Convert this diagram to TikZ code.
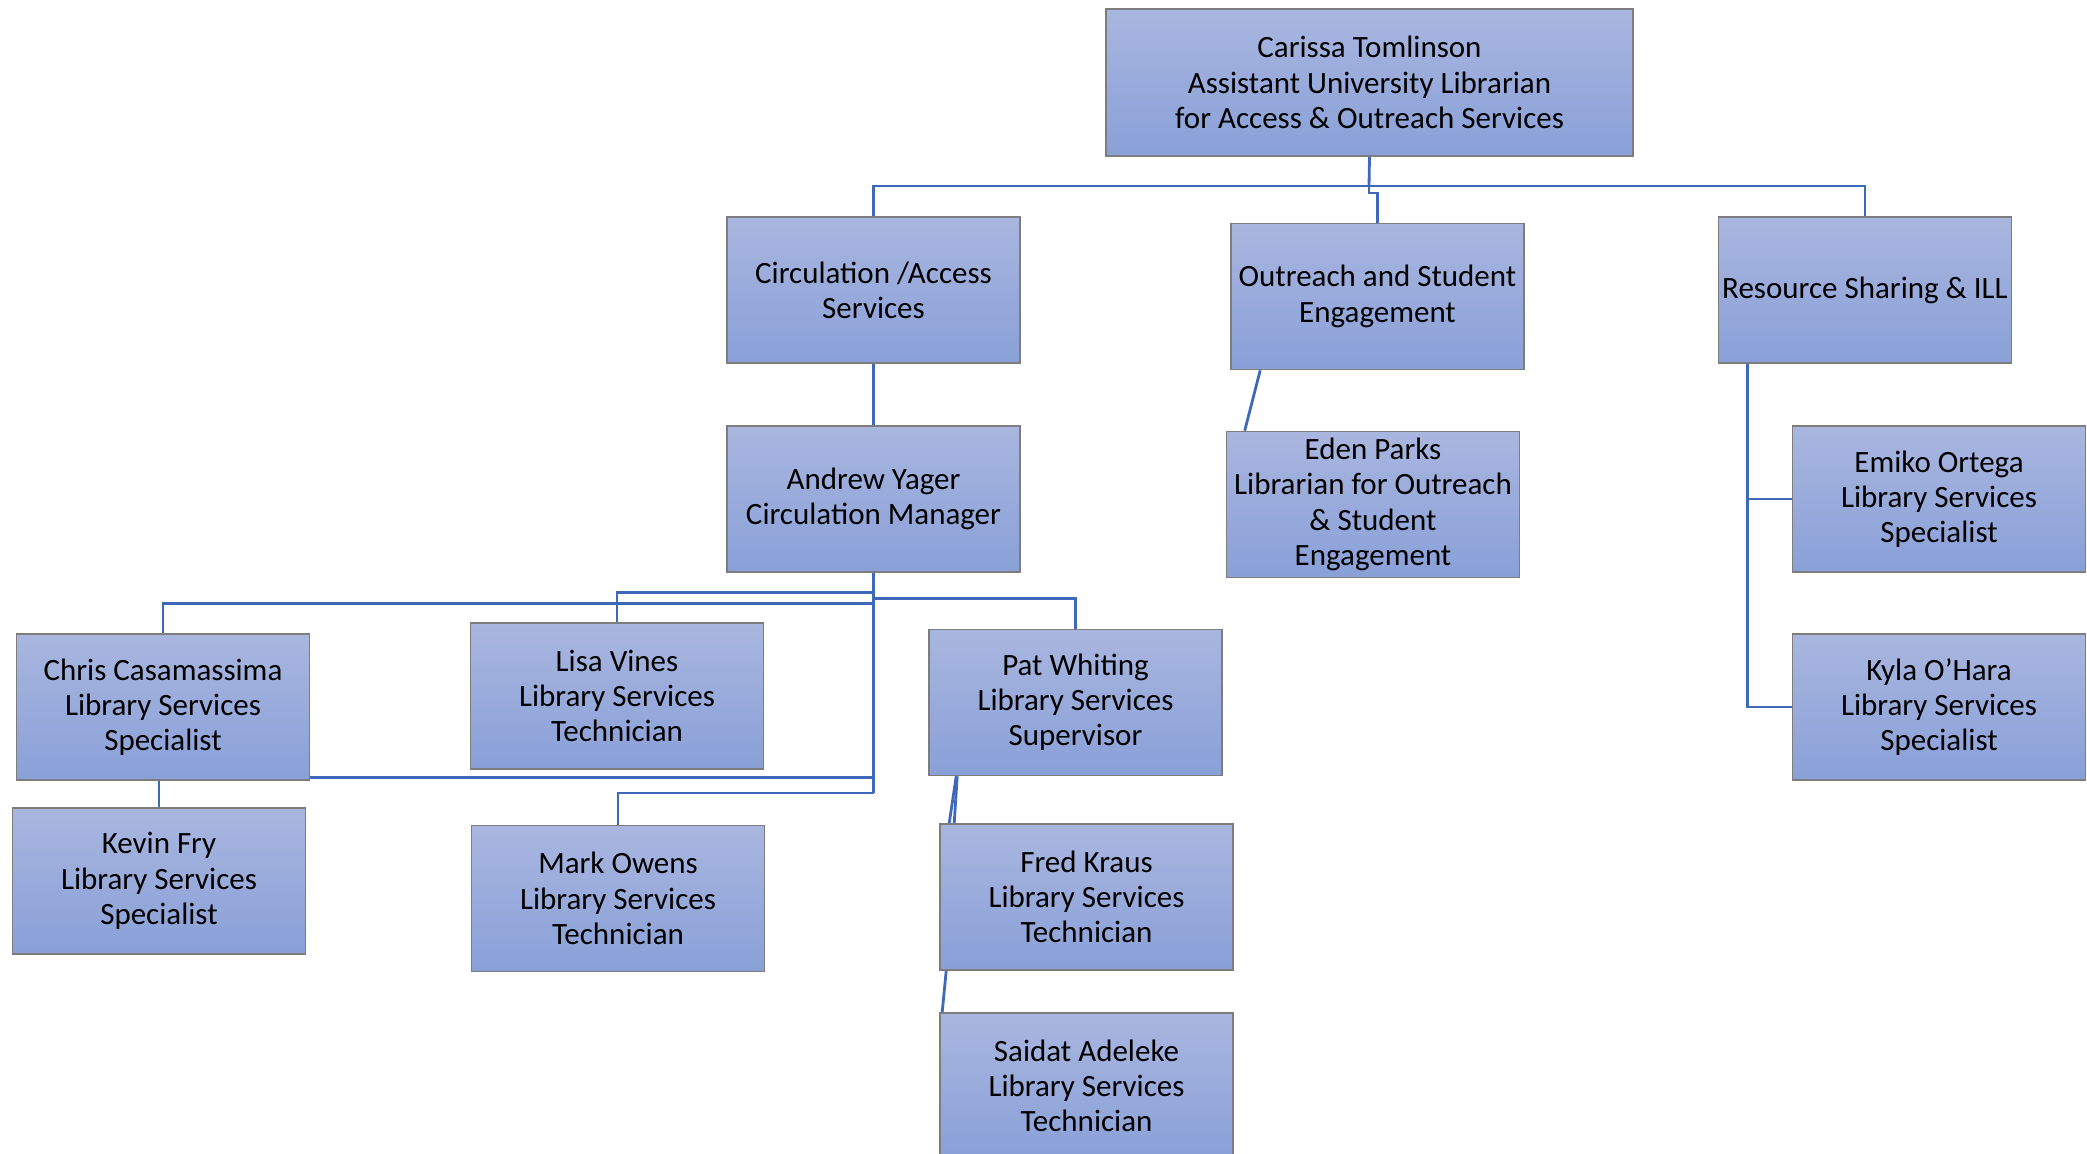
\documentclass[tikz,border=0pt]{standalone}
\usepackage{fontspec}
\setmainfont{Carlito}
\definecolor{boxtop}{RGB}{169,182,223}
\definecolor{boxbot}{RGB}{137,160,216}
\definecolor{boxline}{RGB}{125,125,125}
\definecolor{conncol}{RGB}{62,104,186}
\begin{document}
\begin{tikzpicture}[x=0.5pt,y=-0.5pt,
  orgbox/.style={draw=boxline, line width=0.8pt, top color=boxtop, bottom color=boxbot,
    minimum width=146.5pt, minimum height=73pt, inner sep=0pt, align=center,
    font=\fontsize{15.5}{17.6}\selectfont, text=black},
  conn/.style={draw=conncol, line width=1.4pt}]
\useasboundingbox (0,0) rectangle (2087,1154);

\node[orgbox, minimum width=263.5pt, minimum height=73.5pt] (carissa) at (1369.5,82.5) {Carissa Tomlinson\\Assistant University Librarian\\for Access \& Outreach Services};
\node[orgbox] (circ) at (873.5,290) {Circulation /Access\\Services};
\node[orgbox] (outr) at (1377.5,296.5) {Outreach and Student\\Engagement};
\node[orgbox] (res) at (1865,290) {Resource Sharing \& ILL};
\node[orgbox] (andrew) at (873.5,499) {Andrew Yager\\Circulation Manager};
\node[orgbox] (eden) at (1373,504.5) {Eden Parks\\Librarian for Outreach\\\& Student\\Engagement};
\node[orgbox] (emiko) at (1939,499) {Emiko Ortega\\Library Services\\Specialist};
\node[orgbox] (kyla) at (1939,707) {Kyla O’Hara\\Library Services\\Specialist};
\node[orgbox] (chris) at (163,707) {Chris Casamassima\\Library Services\\Specialist};
\node[orgbox] (lisa) at (617,696) {Lisa Vines\\Library Services\\Technician};
\node[orgbox] (pat) at (1075.5,702.5) {Pat Whiting\\Library Services\\Supervisor};
\node[orgbox] (kevin) at (159,881) {Kevin Fry\\Library Services\\Specialist};
\node[orgbox] (mark) at (618,898.5) {Mark Owens\\Library Services\\Technician};
\node[orgbox] (fred) at (1086.5,897) {Fred Kraus\\Library Services\\Technician};
\node[orgbox] (saidat) at (1086.5,1086) {Saidat Adeleke\\Library Services\\Technician};

% top level
\coordinate (bus1) at (1369,186);
\draw[conn] (carissa.south) -- (bus1);
\draw[conn] (circ.north) |- (bus1) -| (res.north);
\draw[conn] (bus1) -- ++(0,7) -| (outr.north);

\draw[conn] (circ.south) -- (andrew.north);
\draw[conn] ([xshift=15pt]outr.south west) -- ([xshift=9.5pt]eden.north west);
\draw[conn] ([xshift=15pt]res.south west) |- (emiko.west);
\draw[conn] ([xshift=15pt]res.south west) |- (kyla.west);

% Andrew's reports
\coordinate (abot) at (873.5,793);
\draw[conn] (andrew.south) -- (abot);
\draw[conn] (andrew.south) ++(0,20) -| (lisa.north);
\draw[conn] (andrew.south) ++(0,31) -| (chris.north);
\draw[conn] (andrew.south) ++(0,26) -| (pat.north);
\draw[conn] (andrew.south) ++(0,205) -- ([yshift=1.5pt]chris.south east);
\draw[conn] (abot) -| (mark.north);

\draw[conn] (chris.south -| kevin.north) -- (kevin.north);
\draw[conn] ([xshift=14pt]pat.south west) -- ([xshift=5pt]fred.north west);
\draw[conn] ([xshift=14.5pt]pat.south west) -- ([xshift=7.5pt]fred.north west);
\draw[conn] ([xshift=3.5pt]fred.south west) -- ([xshift=1.5pt]saidat.north west);
\end{tikzpicture}
\end{document}
